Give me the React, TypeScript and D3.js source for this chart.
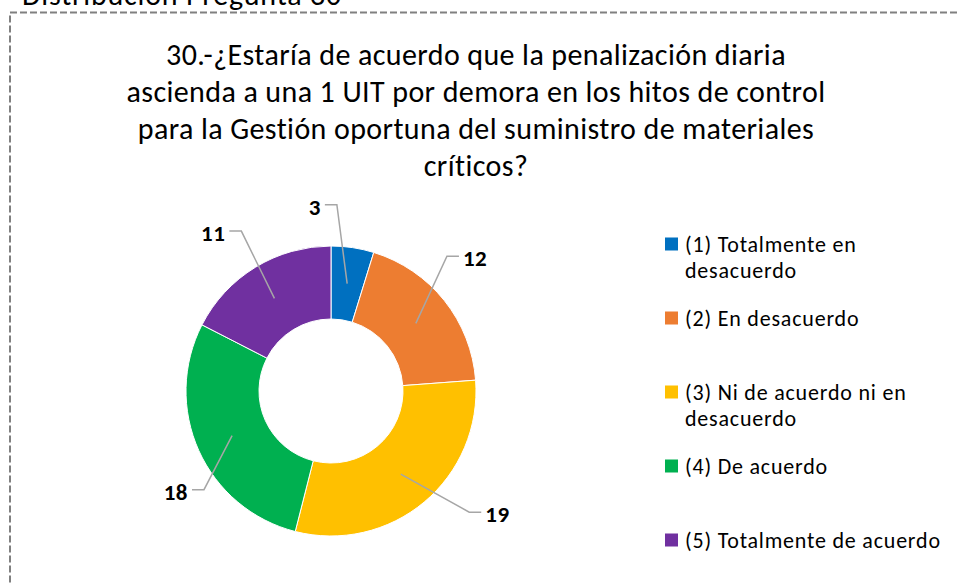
import React, { useEffect, useRef } from "react";
import * as d3 from "d3";

const categories = [
  "(1) Totalmente en desacuerdo",
  "(2) En desacuerdo",
  "(3) Ni de acuerdo ni en desacuerdo",
  "(4) De acuerdo",
  "(5) Totalmente de acuerdo",
];
const values = [3, 12, 19, 18, 11];
const colors = ["#0070c0", "#ed7d31", "#ffc000", "#00b050", "#7030a0"];
const titleLines = [
  "30.-¿Estaría de acuerdo que la penalización diaria",
  "ascienda a una 1 UIT por demora en los hitos de control",
  "para la Gestión oportuna del suministro de materiales",
  "críticos?",
];
const heading = "Distribución Pregunta 30";

// label placement: [angle shift in degrees, distance from centre]
const labelNudge: [number, number][] = [
  [-13.6, 185],
  [-4.1, 196],
  [-13.5, 207],
  [-8.7, 185],
  [-5.3, 197],
];

const FONT = "Carlito, Calibri, Lato, 'Open Sans', sans-serif";

function App() {
  const ref = useRef<SVGSVGElement>(null);

  useEffect(() => {
    const svg = d3.select(ref.current);
    svg.selectAll("*").remove();

    const width = 958;
    const height = 583;

    svg.append("rect").attr("width", width).attr("height", height).attr("fill", "#fff");

    svg
      .append("text")
      .attr("x", 22)
      .attr("y", 5)
      .attr("font-family", FONT)
      .attr("font-size", 30)
      .attr("letter-spacing", 0.8)
      .attr("fill", "#000")
      .text(heading);

    svg
      .append("rect")
      .attr("x", 10)
      .attr("y", 12.5)
      .attr("width", 980)
      .attr("height", 620)
      .attr("fill", "none")
      .attr("stroke", "#808080")
      .attr("stroke-width", 2)
      .attr("stroke-dasharray", "7,3");

    const title = svg
      .append("text")
      .attr("font-family", FONT)
      .attr("font-size", 30)
      .attr("letter-spacing", 0.4)
      .attr("fill", "#000")
      .attr("text-anchor", "middle");
    titleLines.forEach((line, i) => {
      title
        .append("tspan")
        .attr("x", 476)
        .attr("y", 65 + i * 37)
        .text(line);
    });

    const cx = 331;
    const cy = 391;
    const outerR = 145;
    const innerR = 72;

    const pie = d3.pie<number>().sort(null).value((d) => d);
    const arcs = pie(values);
    const arc = d3.arc<d3.PieArcDatum<number>>().innerRadius(innerR).outerRadius(outerR);

    const g = svg.append("g").attr("transform", `translate(${cx},${cy})`);

    g.selectAll(".slice")
      .data(arcs)
      .enter()
      .append("path")
      .attr("class", "slice")
      .attr("d", arc)
      .attr("fill", (d, i) => colors[i])
      .attr("stroke", "#fff")
      .attr("stroke-width", 1);

    const midR = (innerR + outerR) / 2;
    arcs.forEach((d, i) => {
      const mid = (d.startAngle + d.endAngle) / 2;
      const [c0x, c0y] = [Math.sin(mid) * midR, -Math.cos(mid) * midR];
      const la = mid + (labelNudge[i][0] * Math.PI) / 180;
      const lr = labelNudge[i][1];
      const lx = Math.sin(la) * lr;
      const ly = -Math.cos(la) * lr;

      const label = g
        .append("text")
        .attr("x", lx)
        .attr("y", ly)
        .attr("dy", "0.36em")
        .attr("text-anchor", "middle")
        .attr("font-family", FONT)
        .attr("font-size", 23)
        .attr("letter-spacing", 0.5)
        .attr("font-weight", "bold")
        .attr("fill", "#000")
        .text(values[i]);
      const half = (label.node() as SVGTextElement).getComputedTextLength() / 2;
      const side = lx < 0 ? 1 : -1;
      const edgeX = lx + side * (half + 4);
      const elbowX = edgeX + side * 12;
      const lineY = ly - 2;

      g.append("polyline")
        .attr("points", `${c0x},${c0y} ${elbowX},${lineY} ${edgeX},${lineY}`)
        .attr("fill", "none")
        .attr("stroke", "#a6a6a6")
        .attr("stroke-width", 1.5);
    });

    const legend = svg
      .append("g")
      .attr("font-family", FONT)
      .attr("font-size", 22)
      .attr("letter-spacing", 0.8);
    categories.forEach((name, i) => {
      const y = 244 + i * 74;
      legend
        .append("rect")
        .attr("x", 665)
        .attr("y", y - 6.5)
        .attr("width", 13)
        .attr("height", 13)
        .attr("fill", colors[i]);
      const t = legend
        .append("text")
        .attr("x", 685)
        .attr("y", y)
        .attr("dy", "0.36em")
        .attr("fill", "#000");
      const words = name.split(" ");
      let line: string[] = [];
      let tspan = t.append("tspan").attr("x", 685);
      let lineNo = 0;
      words.forEach((w) => {
        line.push(w);
        tspan.text(line.join(" "));
        if ((tspan.node() as SVGTSpanElement).getComputedTextLength() > 264 && line.length > 1) {
          line.pop();
          tspan.text(line.join(" "));
          line = [w];
          lineNo += 1;
          tspan = t
            .append("tspan")
            .attr("x", 685)
            .attr("y", y + lineNo * 26)
            .attr("dy", "0.36em")
            .text(w);
        }
      });
    });
  }, []);

  return (
    <svg
      ref={ref}
      width={958}
      height={583}
      style={{ position: "absolute", left: 0, top: 0, display: "block" }}
    />
  );
}

export default App;
